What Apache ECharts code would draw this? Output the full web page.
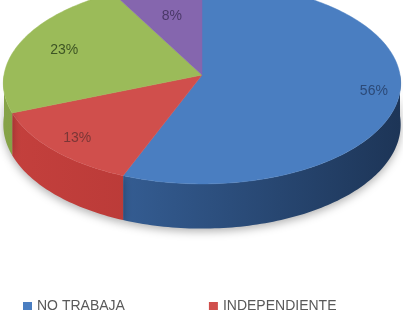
<!DOCTYPE html>
<html>
<head>
<meta charset="utf-8">
<script src="https://cdn.jsdelivr.net/npm/echarts@6/dist/echarts.min.js"></script>
<style>
html,body{margin:0;padding:0;background:#fff;}
#chart{width:403px;height:323px;}
</style>
</head>
<body>
<div id="chart"></div>
<script>
// ---- data ----
const categories = ['NO TRABAJA', 'INDEPENDIENTE', 'DEPENDIENTE', 'OTRO'];
const values = [56, 13, 23, 8];
const legendNames = ['NO TRABAJA', 'INDEPENDIENTE'];

// ---- styles ----
const topColors = ['#4a7ec1', '#d04f4c', '#9bbb59', '#8566ae'];
const sideLight = ['#3e6dab', '#c4403d', '#86a348', '#6f5596'];
const sideDark = ['#1d3557', '#a8302e', '#6c8a35', '#5a4480'];
const labelColors = ['#2c4a78', '#7a3636', '#3d5424', '#4a3868'];
const labelDist = [0.87, 0.84, 0.76, 0.66];

const geo = { cx: 202, cy: 75, rx: 198, ry: 100, depth: 41, persp: 0.082 };

const total = values.reduce((a, b) => a + b, 0);
const cum = [];
values.reduce((acc, v, i) => { cum[i] = acc; return acc + v; }, 0);

function proj(theta, dy, f) {
  const u = Math.sin(theta), v = -Math.cos(theta);
  const w = 1 / (1 - geo.persp * v);
  f = f == null ? 1 : f;
  return [geo.cx + geo.rx * u * w * f, geo.cy + geo.ry * v * w * f + (dy || 0) * w];
}

function arcPoints(a0, a1, dy) {
  const pts = [];
  const n = Math.max(2, Math.ceil((a1 - a0) / 0.02));
  for (let k = 0; k <= n; k++) pts.push(proj(a0 + (a1 - a0) * k / n, dy));
  return pts;
}

function makeRender(i) {
  return function (params, api) {
    const a0 = cum[i] / total * Math.PI * 2;
    const a1 = (cum[i] + api.value(0)) / total * Math.PI * 2;
    const children = [];
    // side wall (front half only)
    const s0 = Math.max(a0, Math.PI / 2), s1 = Math.min(a1, Math.PI * 1.5);
    if (s1 > s0) {
      const top = arcPoints(s0, s1, 0);
      const bot = arcPoints(s0, s1, geo.depth).reverse();
      children.push({
        type: 'polygon',
        shape: { points: top.concat(bot) },
        style: {
          fill: {
            type: 'linear', global: true,
            x: geo.cx - geo.rx, y: 0, x2: geo.cx + geo.rx, y2: 0,
            colorStops: [{ offset: 0, color: sideLight[i] }, { offset: 1, color: sideDark[i] }]
          },
          shadowBlur: 8, shadowColor: 'rgba(0,0,0,0.3)', shadowOffsetY: 3
        }
      });
    }
    // top face
    const pts = [[geo.cx, geo.cy]].concat(arcPoints(a0, a1, 0));
    children.push({
      type: 'polygon',
      shape: { points: pts },
      style: { fill: topColors[i], stroke: topColors[i], lineWidth: 0.5 }
    });
    // label
    const mid = (a0 + a1) / 2;
    const lp = proj(mid, 0, labelDist[i]);
    children.push({
      type: 'text',
      x: lp[0], y: lp[1],
      style: {
        text: Math.round(api.value(0) / total * 100) + '%',
        fill: labelColors[i],
        font: '14px "Liberation Sans", Arial, sans-serif',
        align: 'center', verticalAlign: 'middle'
      },
      z2: 10
    });
    return { type: 'group', children: children };
  };
}

const chart = echarts.init(document.getElementById('chart'), null, { renderer: 'canvas' });
chart.setOption({
  animation: false,
  backgroundColor: '#ffffff',
  legend: {
    data: legendNames,
    left: 18, top: 294,
    icon: 'rect', itemWidth: 9, itemHeight: 8, itemGap: 84,
    textStyle: { color: '#595959', fontSize: 14, fontFamily: '"Liberation Sans", Arial, sans-serif' }
  },
  series: categories.map((name, i) => ({
    type: 'custom',
    name: name,
    coordinateSystem: 'none',
    itemStyle: { color: topColors[i] },
    data: [[values[i]]],
    renderItem: makeRender(i),
    z: 2
  }))
});
</script>
</body>
</html>
